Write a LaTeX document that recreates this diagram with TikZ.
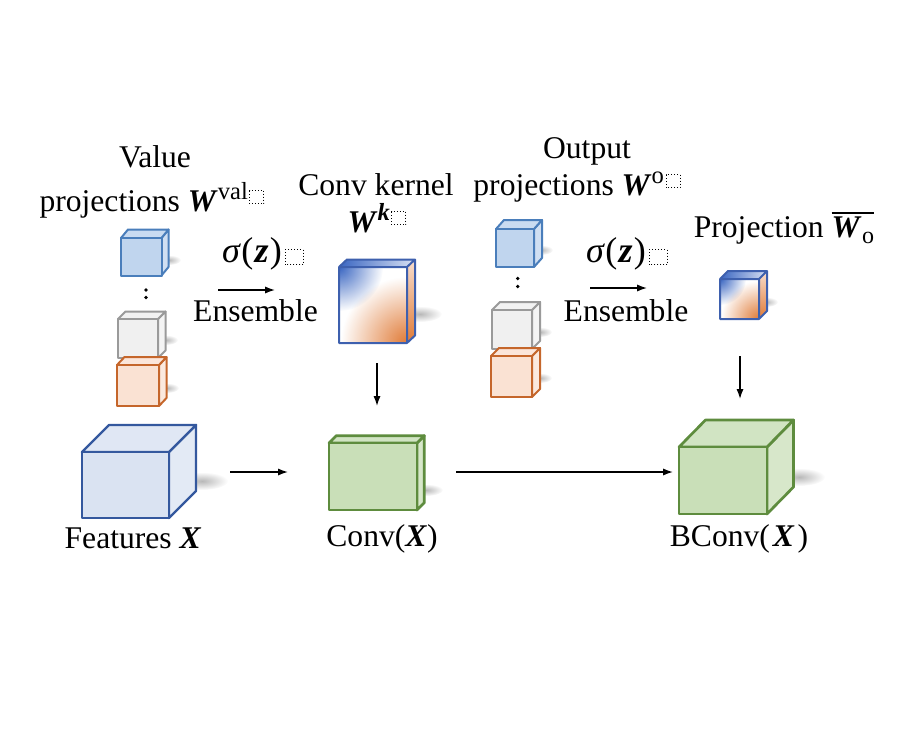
\documentclass[tikz,border=0pt]{standalone}
\usepackage{fontspec}
\setmainfont{Liberation Serif}
\usetikzlibrary{calc,fit,fadings,arrows.meta}
\definecolor{blS}{HTML}{4A7EBB}
\definecolor{blF}{HTML}{C0D5EE}
\definecolor{ftS}{HTML}{34589E}
\definecolor{ftF}{HTML}{DAE3F2}
\definecolor{grS}{HTML}{5E8C3E}
\definecolor{grF}{HTML}{C9DFB8}
\definecolor{gyS}{HTML}{9A9A9A}
\definecolor{gyF}{HTML}{F0F0F0}
\definecolor{orS}{HTML}{C5662B}
\definecolor{orF}{HTML}{FAE2D3}
\definecolor{kbl}{HTML}{3A66C2}
\definecolor{kor}{HTML}{E07A36}
\definecolor{kst}{HTML}{3E60AE}
\tikzfading[name=radfade, inner color=transparent!0, outer color=transparent!100]
\newcommand\bi[1]{\textbf{\textit{#1}}}
\newcommand\sups[1]{\raisebox{0.36em}{\fontsize{12.3}{12}\selectfont #1}}
\newcommand\dbx{\hspace{0.8pt}\raisebox{3.5pt}{\tikz\draw[densely dotted,line width=0.5pt] (0pt,0pt) rectangle (7pt,6.5pt);}}
\newcommand\dbxs{\hspace{1.5pt}\raisebox{-1.5pt}{\tikz\draw[densely dotted,line width=0.5pt] (0pt,0pt) rectangle (9pt,7.5pt);}}
% #1 name, #2 #3 #4 #5 front corners (px), #6 #7 depth, #8 stroke, #9 fill
\newcommand\cubeat[9]{%
  \node[inner sep=0pt, outer sep=0pt, fit={(#2,#3)(#4,#5)}] (#1) {};
  \filldraw[draw=#8, fill=#9!75!white] (#1.north east) -- ++(#6,#7) -- ($(#1.south east)+(#6,#7)$) -- (#1.south east) -- cycle;
  \filldraw[draw=#8, fill=#9!85!white] (#1.north west) -- ++(#6,#7) -- ($(#1.north east)+(#6,#7)$) -- (#1.north east) -- cycle;
  \filldraw[draw=#8, fill=#9] (#1.south west) rectangle (#1.north east);
}
\newcommand\shadowat[4]{\fill[black!28, path fading=radfade] (#1,#2) ellipse (#3 and #4);}
\tikzset{
  lbl/.style={anchor=base, inner sep=0pt, font=\fontsize{15.8}{19}\selectfont},
  sig/.style={anchor=base, inner sep=0pt, font=\fontsize{18}{20}\selectfont},
  arr/.style={-{Latex[length=5pt,width=3.6pt]}, line width=0.7pt},
}
\begin{document}
\begin{tikzpicture}[x=0.5pt,y=-0.5pt, line join=round]
\useasboundingbox (0,0) rectangle (898,738);

% shadows
\shadowat{169}{260}{12}{5}
\shadowat{166}{340}{12}{5}
\shadowat{167}{388}{12}{5}
\shadowat{541}{250}{12}{5}
\shadowat{540}{332}{12}{5}
\shadowat{540}{378}{12}{5}
\shadowat{420}{314}{22}{8}
\shadowat{766}{302}{12}{5}
\shadowat{202}{481}{26}{9}
\shadowat{426}{490}{17}{6}
\shadowat{799}{477}{26}{9}

% small projection cubes
\begin{scope}[line width=1pt]
\cubeat{lb}{121}{238}{161.5}{275.5}{7}{-8.5}{blS}{blF}
\cubeat{lg}{118}{319}{158}{358}{7.5}{-7.5}{gyS}{gyF}
\cubeat{lo}{117}{365}{159}{406}{7.5}{-8}{orS}{orF}
\cubeat{rb}{496}{229}{534}{267}{8}{-9}{blS}{blF}
\cubeat{rg}{492}{310}{532}{349}{8}{-8}{gyS}{gyF}
\cubeat{ro}{491}{356}{532}{397}{8}{-8}{orS}{orF}
\end{scope}
\fill (146,290) circle (1.8) (146,297.5) circle (1.8);
\fill (517.7,278.5) circle (1.8) (517.7,286.5) circle (1.8);

% big cubes
\begin{scope}[line width=1.2pt]
\cubeat{feat}{82}{452}{169}{518}{27}{-27}{ftS}{ftF}
\end{scope}
\begin{scope}[line width=1.35pt]
\cubeat{conv}{329}{443}{417}{510}{7.3}{-7.3}{grS}{grF}
\cubeat{bconv}{679}{447}{767}{514}{26.5}{-27}{grS}{grF}
\end{scope}

% kernel cube (gradient)
\node[inner sep=0pt, outer sep=0pt, fit={(339,267)(407,343)}] (kern) {};
\shade[left color=kbl, right color=kbl!20] (kern.north west) -- ++(8,-7.5) -- ($(kern.north east)+(8,-7.5)$) -- (kern.north east) -- cycle;
\shade[top color=kor!25, bottom color=kor] (kern.north east) -- ++(8,-7.5) -- ($(kern.south east)+(8,-7.5)$) -- (kern.south east) -- cycle;
\begin{scope}
\clip (kern.south west) rectangle (kern.north east);
\fill[white] (kern.south west) rectangle (kern.north east);
\fill[kbl, path fading=radfade] (kern.north west) circle (44);
\fill[kor, path fading=radfade] (kern.south east) circle (66);
\end{scope}
\draw[kst, line width=1pt] (kern.north west) -- ++(8,-7.5) -- ($(kern.north east)+(8,-7.5)$) -- ($(kern.south east)+(8,-7.5)$) -- (kern.south east)
  (kern.north east) -- ++(8,-7.5) (kern.south west) rectangle (kern.north east);

% projection cube (gradient)
\node[inner sep=0pt, outer sep=0pt, fit={(720,279)(759,319)}] (proj) {};
\shade[left color=kbl, right color=kbl!20] (proj.north west) -- ++(8,-8) -- ($(proj.north east)+(8,-8)$) -- (proj.north east) -- cycle;
\shade[top color=kor!25, bottom color=kor] (proj.north east) -- ++(8,-8) -- ($(proj.south east)+(8,-8)$) -- (proj.south east) -- cycle;
\begin{scope}
\clip (proj.south west) rectangle (proj.north east);
\fill[white] (proj.south west) rectangle (proj.north east);
\fill[kbl, path fading=radfade] (proj.north west) circle (26);
\fill[kor, path fading=radfade] (proj.south east) circle (38);
\end{scope}
\draw[kst, line width=1pt] (proj.north west) -- ++(8,-8) -- ($(proj.north east)+(8,-8)$) -- ($(proj.south east)+(8,-8)$) -- (proj.south east)
  (proj.north east) -- ++(8,-8) (proj.south west) rectangle (proj.north east);

% labels
\node[lbl] (tv1) at (155,167) {Value};
\node[lbl] (tv2) at (152,211) {projections \bi{W}\sups{val}\dbx};
\node[lbl] (tk1) at (376,195) {Conv kernel};
\node[lbl] (tk2) at (377,232) {\bi{W}\sups{\bi{k}}\dbx};
\node[lbl] (to1) at (587,158) {Output};
\node[lbl] (to2) at (577,195) {projections \bi{W}\sups{o}\dbx};
\node[lbl] (tp) at (784,237) {Projection \vbox{\hrule height 0.9pt\kern1.3pt\hbox{\bi{W}\kern0.3pt\raisebox{-0.22em}{\fontsize{12}{12}\selectfont o}}}};
\node[sig] (s1) at (263,262) {{\itshape σ}\kern0.8pt(\kern0.6pt\bi{z}\kern0.6pt)\dbxs};
\node[sig] (s2) at (627,262) {{\itshape σ}\kern0.8pt(\kern0.6pt\bi{z}\kern0.6pt)\dbxs};
\node[lbl] (e1) at (255.5,321) {Ensemble};
\node[lbl] (e2) at (626,321) {Ensemble};
\node[lbl] (tf) at (133,548) {Features \bi{X}};
\node[lbl] (tc) at (382,546) {Conv(\bi{X})};
\node[lbl] (tb) at (739,546) {BConv(\kern1.5pt\bi{X}\kern1.5pt)};

% arrows
\coordinate (a1s) at (218,290); \coordinate (a1e) at (275,290);
\coordinate (a2s) at (590,288); \coordinate (a2e) at (647,288);
\coordinate (a3s) at (377,363); \coordinate (a3e) at (377,406);
\coordinate (a4s) at (740,356); \coordinate (a4e) at (740,399);
\coordinate (a5s) at (230,472); \coordinate (a5e) at (288,472);
\coordinate (a6s) at (456,472); \coordinate (a6e) at (673,472);
\draw[arr] (a1s) -- (a1e);
\draw[arr] (a2s) -- (a2e);
\draw[arr] (a3s) -- (a3e);
\draw[arr] (a4s) -- (a4e);
\draw[arr] (a5s) -- (a5e);
\draw[arr] (a6s) -- (a6e);
\end{tikzpicture}
\end{document}
